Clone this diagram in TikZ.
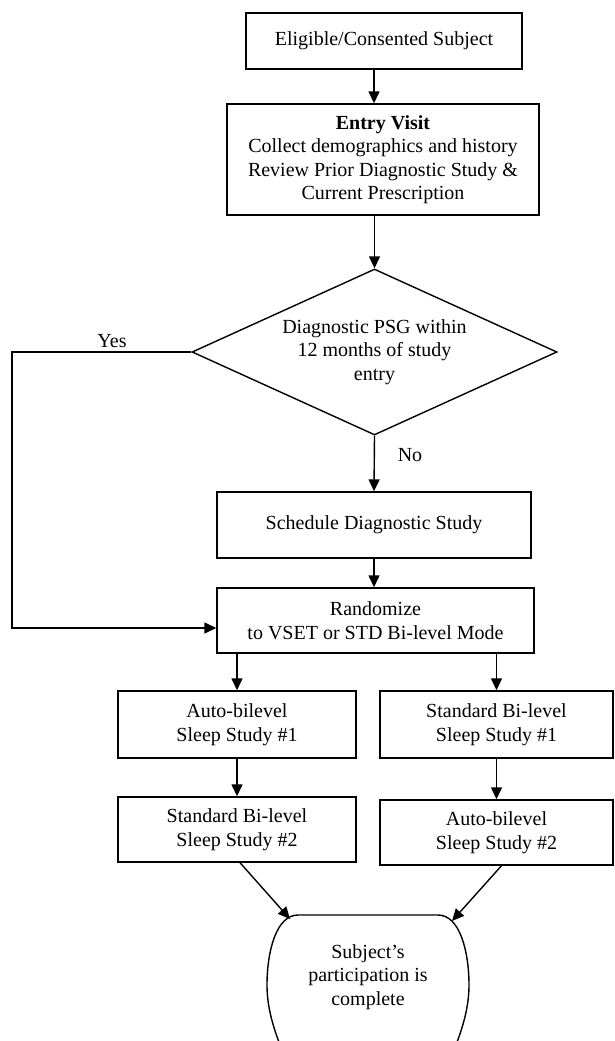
\documentclass[tikz,border=0pt]{standalone}
\usepackage{fontspec}
\setmainfont{Liberation Serif}
\usetikzlibrary{arrows.meta,shapes.geometric}
\begin{document}
\begin{tikzpicture}[x=1pt,y=-1pt,
  box/.style={draw, line width=1.4pt, rectangle, align=center, inner sep=0pt},
  arr/.style={line width=1.4pt, -{Triangle[length=12pt,width=11pt]}},
  plain/.style={line width=1.4pt},
  lbl/.style={inner sep=0pt},
  font=\fontsize{20}{23.5}\selectfont]
\useasboundingbox (0,0) rectangle (614,1041);

\node[box, minimum width=276pt, minimum height=56pt] (elig) at (384,41) {Eligible/Consented Subject};
\node[box, minimum width=312pt, minimum height=111pt] (entry) at (383,159.5)
  {\textbf{Entry Visit}\\Collect demographics and history\\Review Prior Diagnostic Study \&\\Current Prescription};
\node[draw, line width=1.4pt, shape=diamond, aspect=2.2, minimum width=365pt, minimum height=166pt,
  inner sep=0pt, align=center] (dia) at (374.5,352) {Diagnostic PSG within\\12 months of study\\entry};
\node[box, minimum width=314pt, minimum height=66pt] (sched) at (374,525) {Schedule Diagnostic Study};
\node[box, minimum width=317pt, minimum height=65pt] (rand) at (375.5,620.5) {Randomize\\to VSET or STD Bi-level Mode};
\node[box, minimum width=238pt, minimum height=67pt] (a1) at (237,724.5) {Auto-bilevel\\Sleep Study \#1};
\node[box, minimum width=233pt, minimum height=67pt] (b1) at (496.5,724.5) {Standard Bi-level\\Sleep Study \#1};
\node[box, minimum width=238pt, minimum height=65pt] (a2) at (237,829.5) {Standard Bi-level\\Sleep Study \#2};
\node[box, minimum width=233pt, minimum height=65pt] (b2) at (496.5,832.5) {Auto-bilevel\\Sleep Study \#2};
\node[align=center, inner sep=0pt] (done) at (368,977) {Subject's\\participation is\\complete};

\node[lbl] (yes) at (112,341) {Yes};
\node[lbl] (no) at (410,455) {No};

% terminal outline
\draw[plain] (282,1050) .. controls (272,1025) and (267,1005) .. (267,985)
  .. controls (267,952) and (276,915) .. (298,915) -- (438,915)
  .. controls (460,915) and (469,952) .. (469,985)
  .. controls (469,1005) and (464,1025) .. (454,1050);
\coordinate (dl) at (290,919);
\coordinate (dr) at (452,921);
\coordinate (yc) at (12,628);

\draw[arr] ([xshift=-10pt]elig.south) -- ([xshift=-9pt]entry.north);
\draw[arr] ([xshift=-8.5pt]entry.south) -- (dia.north);
\draw[arr] (dia.south) -- (sched.north);
\draw[arr] (sched.south) -- (sched.south |- rand.north);
\draw[arr] (dia.west) -| (yc) -- (yc -| rand.west);
\draw[arr] (a1.north |- rand.south) -- (a1.north);
\draw[arr] (b1.north |- rand.south) -- (b1.north);
\draw[arr] (a1.south) -- (a2.north);
\draw[arr] (b1.south) -- (b2.north);
\draw[arr] ([xshift=3pt]a2.south) -- (dl);
\draw[arr] ([xshift=5pt]b2.south) -- (dr);
\end{tikzpicture}
\end{document}
